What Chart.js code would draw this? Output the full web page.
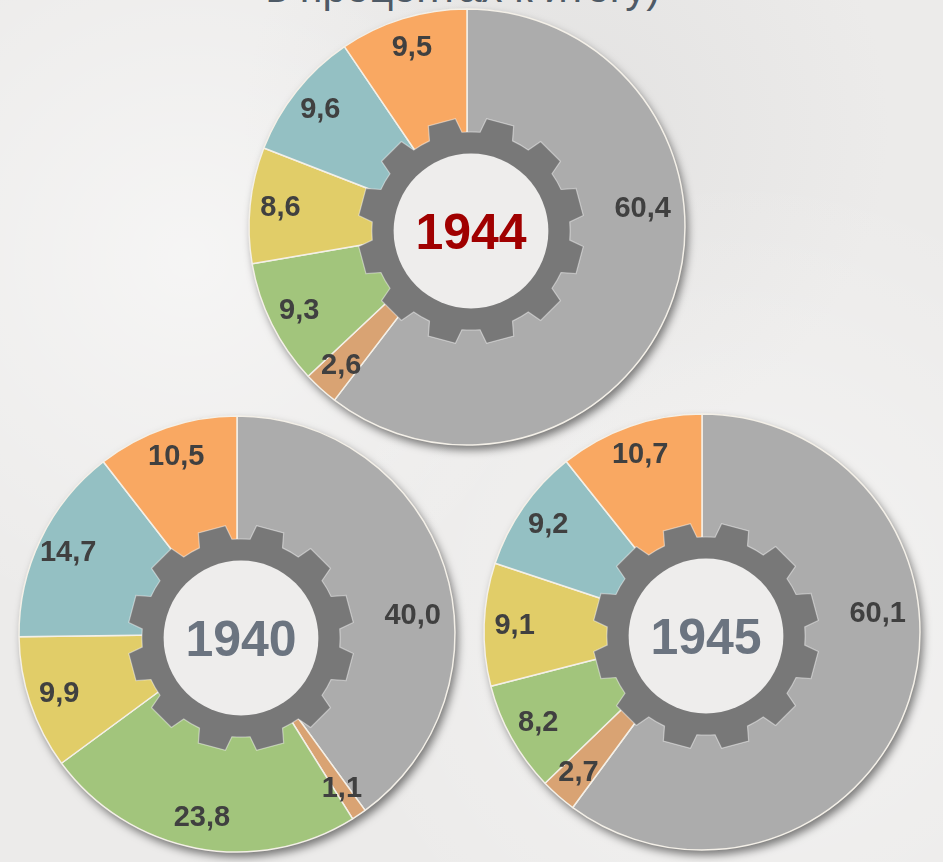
<!DOCTYPE html>
<html lang="ru">
<head>
<meta charset="utf-8">
<title>Структура в процентах к итогу</title>
<script src="https://cdn.jsdelivr.net/npm/chart.js@4.4.1/dist/chart.umd.min.js"></script>
<style>
  html, body { margin: 0; padding: 0; }
  body {
    width: 943px; height: 862px; overflow: hidden; position: relative;
    background: #ecebea;
    background-image:
      radial-gradient(circle at 20% 30%, rgba(255,255,255,0.5), rgba(255,255,255,0) 40%),
      radial-gradient(circle at 80% 70%, rgba(255,255,255,0.4), rgba(255,255,255,0) 45%),
      radial-gradient(circle at 60% 15%, rgba(200,200,200,0.25), rgba(200,200,200,0) 35%);
    font-family: Arial, "Liberation Sans", sans-serif;
  }
  .subtitle {
    position: absolute; left: 0; width: 926px; top: -33px;
    text-align: center; font-size: 42px; line-height: 42px;
    color: #4e5a66; white-space: nowrap;
  }
  canvas { position: absolute; }
</style>
</head>
<body>
<div class="subtitle">в процентах к итогу)</div>
<canvas id="c1944" width="480" height="480" style="left:227px; top:-13px"></canvas>
<canvas id="c1940" width="480" height="480" style="left:-3px; top:394px"></canvas>
<canvas id="c1945" width="480" height="480" style="left:462px; top:392px"></canvas>

<script>
// slices go clockwise from 12 o'clock
const categories = ['s1', 's2', 's3', 's4', 's5', 's6'];
const sliceColors = ['#acacac', '#d9a373', '#a2c57c', '#e1cd68', '#94c0c3', '#f9a862'];

const values1944 = [60.4, 2.6, 9.3, 8.6, 9.6, 9.5];
const values1940 = [40.0, 1.1, 23.8, 9.9, 14.7, 10.5];
const values1945 = [60.1, 2.7, 8.2, 9.1, 9.2, 10.7];

const BG = '#eeedec';
const R = 218;

function fmt(v) {
  return v.toFixed(1).replace('.', ',');
}

function drawGear(ctx, cx, cy, rad) {
  const teeth = 12;
  const rTip = rad * 0.52, rRoot = rad * 0.455, rHole = rad * 0.355;
  const tipHalf = 0.124, baseHalf = 0.17;
  const step = Math.PI * 2 / teeth;
  const phase = Math.PI / 12; // teeth at 15, 45, 75 ... degrees

  ctx.save();
  ctx.beginPath();
  for (let i = 0; i < teeth; i++) {
    const a = phase + i * step;
    const p1 = a - baseHalf, p2 = a - tipHalf, p3 = a + tipHalf, p4 = a + baseHalf;
    if (i === 0) ctx.moveTo(cx + Math.cos(p1) * rRoot, cy + Math.sin(p1) * rRoot);
    ctx.lineTo(cx + Math.cos(p2) * rTip, cy + Math.sin(p2) * rTip);
    ctx.lineTo(cx + Math.cos(p3) * rTip, cy + Math.sin(p3) * rTip);
    ctx.lineTo(cx + Math.cos(p4) * rRoot, cy + Math.sin(p4) * rRoot);
    const next = phase + (i + 1) * step - baseHalf;
    ctx.arc(cx, cy, rRoot, p4, next);
  }
  ctx.closePath();
  ctx.fillStyle = '#787878';
  ctx.fill();
  ctx.strokeStyle = 'rgba(255,255,255,0.45)';
  ctx.lineWidth = 1.2;
  ctx.stroke();

  ctx.beginPath();
  ctx.arc(cx, cy, rHole, 0, Math.PI * 2);
  ctx.fillStyle = BG;
  ctx.fill();
  ctx.restore();
}

const gearPlugin = {
  id: 'gear',
  beforeDatasetsDraw(chart) {
    const arc = chart.getDatasetMeta(0).data[0];
    if (!arc) return;
    const ctx = chart.ctx;
    ctx.save();
    ctx.beginPath();
    ctx.arc(arc.x, arc.y, arc.outerRadius, 0, Math.PI * 2);
    ctx.fillStyle = '#a8a8a8';
    ctx.shadowColor = 'rgba(0,0,0,0.5)';
    ctx.shadowBlur = 8;
    ctx.shadowOffsetX = 3;
    ctx.shadowOffsetY = 5;
    ctx.fill();
    ctx.restore();
  },
  afterDatasetsDraw(chart, args, opts) {
    const meta = chart.getDatasetMeta(0);
    const values = chart.data.datasets[0].data;
    const ctx = chart.ctx;
    const first = meta.data[0];
    const cx = first.x, cy = first.y, rad = first.outerRadius;

    drawGear(ctx, cx + 4, cy + 4, rad);

    // year in the middle
    ctx.save();
    ctx.font = 'bold 50px Arial, "Liberation Sans", sans-serif';
    ctx.fillStyle = opts.yearColor;
    ctx.textAlign = 'center';
    ctx.textBaseline = 'middle';
    ctx.fillText(opts.year, cx + 4, cy + 8);

    // slice values
    ctx.font = 'bold 29px Arial, "Liberation Sans", sans-serif';
    ctx.fillStyle = '#404040';
    meta.data.forEach((el, i) => {
      let ang = (el.startAngle + el.endAngle) / 2;
      let dist = rad * 0.86;
      if (i === 0) { ang = -Math.PI / 2 + 84 * Math.PI / 180; dist = rad * 0.81; }
      ctx.fillText(fmt(values[i]), cx + Math.cos(ang) * dist, cy + Math.sin(ang) * dist);
    });
    ctx.restore();
  }
};

function makeChart(id, values, year, yearColor) {
  new Chart(document.getElementById(id), {
    type: 'pie',
    data: {
      labels: categories,
      datasets: [{
        data: values,
        backgroundColor: sliceColors,
        borderColor: '#f4f0e8',
        borderWidth: 1.5
      }]
    },
    options: {
      responsive: false,
      animation: false,
      devicePixelRatio: 1,
      radius: R,
      layout: { padding: 0 },
      plugins: {
        legend: { display: false },
        tooltip: { enabled: false },
        gear: { year: year, yearColor: yearColor }
      }
    },
    plugins: [gearPlugin]
  });
}

makeChart('c1944', values1944, '1944', '#a00000');
makeChart('c1940', values1940, '1940', '#6b7480');
makeChart('c1945', values1945, '1945', '#6b7480');
</script>
</body>
</html>
